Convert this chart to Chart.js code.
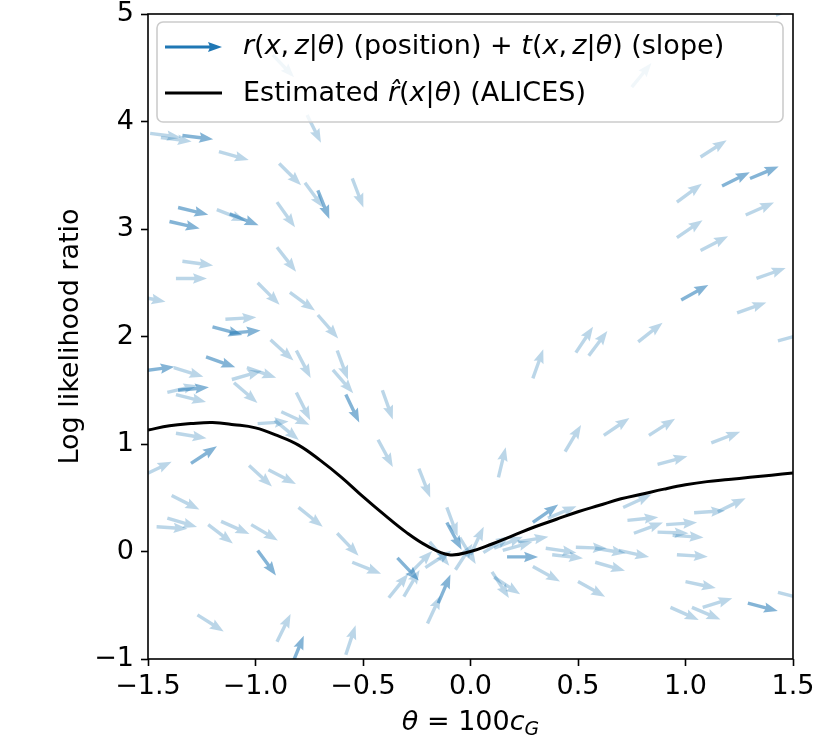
<!DOCTYPE html>
<html>
<head>
<meta charset="utf-8">
<script src="https://cdn.jsdelivr.net/npm/chart.js@4.4.1/dist/chart.umd.min.js"></script>
<style>
  html, body { margin: 0; padding: 0; background: #fff; }
</style>
</head>
<body>
<canvas id="alicesChart" width="825" height="750"></canvas>
<script>
// Quiver samples: position (theta, r) and slope t of each arrow
const arrowTheta = [
  -1.49, -1.44, -1.34, -1.17, -0.89, -0.77, -0.71, -0.90, -0.55, -1.36,
  -1.40, -1.18, -1.12, -0.92, -0.76, -1.34, -1.37, -1.56, -0.90, -0.99,
  -0.84, -0.71, -1.14, -1.20, -1.12, -0.93, -0.81, -0.62, -0.64, -0.58,
  -1.23, -1.52, -1.38, -1.11, -1.04, -1.41, -1.36, -1.37, -1.10, -0.81,
  -0.88, -0.99, -0.91, -1.37, -1.52, -1.30, -1.03, -0.94, -1.39, -1.41,
  -1.46, -1.22, -1.16, -1.02, -0.80, -0.62, -0.55, -0.99, -1.27, -0.90,
  -0.83, -0.58, -0.41, -0.43, -0.24, 0.13, 0.44, -0.11, -0.11, -0.19,
  -0.05, 0.00, -0.07, -0.34, -0.38, -0.31, -0.28, -0.21, -0.20, -0.15,
  0.06, 0.11, 0.15, 0.22, 0.29, 0.36, 0.17, 0.35, 0.38, 0.49,
  0.29, 0.10, 0.11, 1.12, 0.87, 0.71, 1.04, 1.15, 0.73, 0.76,
  0.87, 0.91, 0.94, 0.58, 0.69, 0.58, 0.96, 0.50, 1.00, 1.08,
  0.93, 1.03, 1.29, 1.43, 0.96, 1.07, 1.33, 0.98, 1.24, 1.43,
  0.78, 0.49, 0.55, 0.62, 0.83, 0.29, 1.42, 0.75, 1.07, 1.17,
  1.30, 0.96, 1.28
];
const arrowR = [
  3.89, 3.85, 3.87, 3.72, 3.61, 3.43, 3.36, 3.25, 3.47, 3.20,
  3.07, 3.18, 3.14, 4.62, 4.06, 2.70, 2.54, 2.38, 2.83, 2.50,
  2.41, 2.20, 2.16, 2.09, 2.03, 1.97, 1.87, 1.87, 1.69, 1.46,
  1.81, 1.68, 1.71, 1.60, 1.71, 1.48, 1.50, 1.46, 1.57, 1.48,
  1.30, 1.19, 1.22, 1.10, 0.71, 0.82, 0.80, 0.76, 0.52, 0.31,
  0.23, 0.25, 0.28, 0.25, 0.41, 0.17, -0.10, 0.01, -0.59, -0.84,
  -1.05, -0.96, 1.50, 1.04, 0.77, 0.69, 0.93, 0.41, 0.27, 0.09,
  0.13, -0.03, -0.17, -0.06, -0.43, -0.42, -0.20, -0.15, -0.67, -0.48,
  -0.01, 0.03, 0.01, 0.09, 0.27, 0.31, -0.05, 0.03, -0.03, 0.04,
  -0.14, -0.19, -0.24, 1.01, 0.81, 0.41, 0.36, 0.37, 0.29, 0.17,
  0.18, 0.25, 0.15, 0.03, 0.01, -0.10, -0.03, -0.28, -0.28, -0.52,
  -0.52, -0.52, -0.48, -0.38, 2.92, 2.80, 2.54, 2.34, 2.22, 1.96,
  1.95, 1.85, 1.82, 1.08, 1.08, 1.61, 4.99, 4.32, 3.67, 3.40,
  3.47, 3.25, 3.13
];
const arrowSlope = [
  -0.27, -0.25, -0.25, -0.57, -2.0, -2.7, -5.0, -2.8, -5.2, -0.48,
  -0.47, -0.79, -0.79, -2.1, -4.0, -0.27, 0.0, -0.4, -2.56, -2.0,
  -1.45, -2.3, 0.13, -0.55, 0.18, -1.82, -3.85, -5.4, -2.3, -4.15,
  -0.71, 0.27, -0.62, 0.57, -0.69, 0.47, 0.19, -0.5, -1.73, -4.0,
  -0.93, 0.13, -1.64, -0.33, 0.96, 1.31, -1.83, -1.03, -1.0, -0.6,
  -0.13, -1.52, -0.89, -1.19, -1.6, -2.1, -0.79, -2.74, -1.26, 4.1,
  4.9, 6.0, -5.6, -3.7, -5.1, 8.3, 3.33, -5.4, -3.7, -2.44,
  -3.33, 4.25, 3.07, -2.1, 2.47, 3.4, 2.0, 1.3, 4.33, 4.67,
  1.25, 0.8, 0.58, 0.33, 1.41, 0.84, 0.0, -0.29, -0.23, -0.07,
  -1.1, -3.07, -1.3, 0.77, 0.55, 0.91, 0.14, 0.97, 0.2, 0.74,
  -0.07, 0.13, -0.13, -0.32, -0.44, -0.57, -0.13, -1.11, -0.43, 0.62,
  -0.89, -0.85, -0.53, -0.53, 1.36, 1.04, 0.71, 1.11, 0.71, 0.53,
  1.57, 3.0, 2.67, 1.36, 1.28, 5.6, 0.8, 2.44, 1.28, 1.0,
  0.83, 1.48, 0.89
];

// ALICES estimate of the log likelihood ratio
const curveTheta = [-1.5, -1.4, -1.3, -1.2, -1.1, -1.0, -0.9, -0.8, -0.7, -0.6,
  -0.5, -0.4, -0.3, -0.2, -0.1, 0.0, 0.1, 0.2, 0.3, 0.4,
  0.5, 0.6, 0.7, 0.8, 0.9, 1.0, 1.1, 1.2, 1.3, 1.4, 1.5];
const curveR = [1.13, 1.17, 1.19, 1.20, 1.18, 1.15, 1.08, 0.99, 0.85, 0.69,
  0.51, 0.34, 0.18, 0.05, -0.03, 0.00, 0.07, 0.15, 0.23, 0.30,
  0.37, 0.43, 0.49, 0.535, 0.58, 0.62, 0.65, 0.67, 0.69, 0.71, 0.73];

const xTicks = [-1.5, -1.0, -0.5, 0.0, 0.5, 1.0, 1.5];
const yTicks = [-1, 0, 1, 2, 3, 4, 5];

// arrows drawn with a stronger alpha
const darkArrows = [2, 6, 9, 10, 12, 23, 24, 29, 30, 31, 36, 45, 57, 60, 68, 73, 79, 84, 86, 112, 117, 129, 130];

const FONT = '"DejaVu Sans", sans-serif';
const FS = 27;
Chart.defaults.font.family = FONT;
Chart.defaults.font.size = FS;
Chart.defaults.color = '#000';

const minus = s => s.replace('-', '\u2212');

function arrowPath(ctx, x0, y0, ux, uy, len, shaft, headW, headL, headAxis) {
  const vx = -uy, vy = ux;
  const pts = [
    [0, -shaft / 2], [len - headAxis, -shaft / 2], [len - headL, -headW / 2], [len, 0],
    [len - headL, headW / 2], [len - headAxis, shaft / 2], [0, shaft / 2]
  ];
  ctx.beginPath();
  pts.forEach(([a, b], k) => {
    const X = x0 + ux * a + vx * b, Y = y0 + uy * a + vy * b;
    if (k) ctx.lineTo(X, Y); else ctx.moveTo(X, Y);
  });
  ctx.closePath();
  ctx.fill();
}

function richText(ctx, parts, x, y, size, align) {
  const fontOf = s => (s ? 'italic ' : '') + (s === 'sub' ? size * 0.7 : size) + 'px ' + FONT;
  let total = 0;
  parts.forEach(([t, s]) => { ctx.font = fontOf(s); total += ctx.measureText(t).width; });
  let cx = align === 'center' ? x - total / 2 : x;
  ctx.textAlign = 'left';
  ctx.textBaseline = 'alphabetic';
  parts.forEach(([t, s]) => {
    ctx.font = fontOf(s);
    ctx.fillText(t, cx, s === 'sub' ? y + size * 0.2 : y);
    cx += ctx.measureText(t).width;
  });
}

const quiverPlugin = {
  id: 'quiver',
  beforeDatasetsDraw(chart) {
    const {ctx, chartArea: ca, scales: {x, y}} = chart;
    const meta = chart.getDatasetMeta(0);
    ctx.save();
    ctx.beginPath();
    ctx.rect(ca.left, ca.top, ca.right - ca.left, ca.bottom - ca.top);
    ctx.clip();
    arrowTheta.forEach((th, i) => {
      const p = meta.data[i];
      const dx = x.getPixelForValue(th + 0.1) - p.x;
      const dy = y.getPixelForValue(arrowR[i] + 0.1 * arrowSlope[i]) - p.y;
      const n = Math.hypot(dx, dy);
      const a = darkArrows.includes(i) ? 0.55 : 0.3;
      ctx.fillStyle = `rgba(31,119,180,${a})`;
      arrowPath(ctx, p.x, p.y, dx / n, dy / n, 31, 3.4, 10.5, 14, 12.5);
    });
    ctx.restore();
  },
  afterDraw(chart) {
    const {ctx, chartArea: ca} = chart;
    ctx.save();
    // frame
    ctx.strokeStyle = '#000';
    ctx.lineWidth = 1.6;
    ctx.strokeRect(ca.left, ca.top, ca.right - ca.left, ca.bottom - ca.top);

    // legend
    const L = ca.left + 9, T = ca.top + 8, W = ca.right - 10 - L, H = 100;
    ctx.beginPath();
    ctx.roundRect(L, T, W, H, 6);
    ctx.fillStyle = 'rgba(255,255,255,0.8)';
    ctx.fill();
    ctx.strokeStyle = '#cccccc';
    ctx.lineWidth = 1.6;
    ctx.stroke();

    ctx.fillStyle = '#1f77b4';
    arrowPath(ctx, L + 8, T + 25, 1, 0, 57, 3.2, 10, 14, 12.5);
    ctx.strokeStyle = '#000';
    ctx.lineWidth = 3;
    ctx.beginPath();
    ctx.moveTo(L + 8, T + 71);
    ctx.lineTo(L + 65, T + 71);
    ctx.stroke();

    ctx.fillStyle = '#000';
    richText(ctx, [['r', 'i'], ['(', ''], ['x', 'i'], [',\u2009', ''], ['z', 'i'], ['|', ''], ['\u03b8', 'i'], [')', ''],
      [' (position) + ', ''], ['t', 'i'], ['(', ''], ['x', 'i'], [',\u2009', ''], ['z', 'i'], ['|', ''], ['\u03b8', 'i'], [')', ''],
      [' (slope)', '']], L + 86, T + 32, FS, 'left');
    richText(ctx, [['Estimated ', ''], ['r\u0302', 'i'], ['(', ''], ['x', 'i'], ['|', ''], ['\u03b8', 'i'], [')', ''],
      [' (ALICES)', '']], L + 86, T + 79, FS, 'left');

    // x axis title
    richText(ctx, [['\u03b8', 'i'], [' = 100', ''], ['c', 'i'], ['G', 'sub']],
      (ca.left + ca.right) / 2, ca.bottom + 71, FS, 'center');
    ctx.restore();
  }
};

new Chart(document.getElementById('alicesChart'), {
  type: 'scatter',
  data: {
    datasets: [
      {
        label: 'r(x,z|θ) (position) + t(x,z|θ) (slope)',
        data: arrowTheta.map((v, i) => ({x: v, y: arrowR[i]})),
        pointRadius: 0,
        pointHoverRadius: 0
      },
      {
        label: 'Estimated r̂(x|θ) (ALICES)',
        data: curveTheta.map((v, i) => ({x: v, y: curveR[i]})),
        showLine: true,
        borderColor: '#000',
        borderWidth: 3,
        pointRadius: 0,
        tension: 0.4,
        fill: false
      }
    ]
  },
  options: {
    responsive: false,
    animation: false,
    layout: { padding: { top: 14, right: 32, left: 0, bottom: 0 } },
    plugins: {
      legend: { display: false },
      tooltip: { enabled: false }
    },
    scales: {
      x: {
        type: 'linear',
        min: xTicks[0],
        max: xTicks[xTicks.length - 1],
        afterBuildTicks: s => { s.ticks = xTicks.map(v => ({value: v})); },
        ticks: { padding: 5, callback: v => minus(v.toFixed(1)) },
        grid: { drawOnChartArea: false, tickLength: 7, tickWidth: 1.6, tickColor: '#000' },
        border: { display: false },
        afterFit: s => { s.height = 91; s.paddingLeft = 0; s.paddingRight = 0; }
      },
      y: {
        type: 'linear',
        min: yTicks[0],
        max: yTicks[yTicks.length - 1],
        afterBuildTicks: s => { s.ticks = yTicks.map(v => ({value: v})); },
        ticks: { padding: 7, callback: v => minus(String(v)) },
        grid: { drawOnChartArea: false, tickLength: 7, tickWidth: 1.6, tickColor: '#000' },
        border: { display: false },
        title: {
          display: true,
          text: 'Log likelihood ratio',
          font: { size: FS, lineHeight: 1.2 },
          padding: { top: 55, bottom: 0 }
        },
        afterFit: s => { s.width = 148; s.paddingTop = 0; s.paddingBottom = 0; }
      }
    }
  },
  plugins: [quiverPlugin]
});
</script>
</body>
</html>
